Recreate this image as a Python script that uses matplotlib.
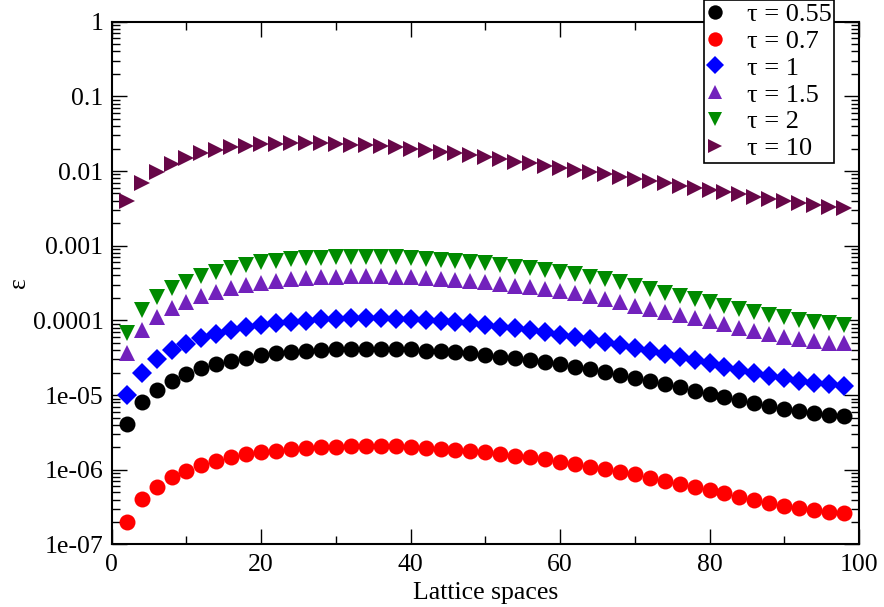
import numpy as np
import matplotlib
matplotlib.use("Agg")
import matplotlib.pyplot as plt
from matplotlib.ticker import LogLocator, FixedLocator, NullFormatter

plt.rcParams['font.family'] = ['Liberation Serif', 'DejaVu Serif']

################################################################################
# Datos

lattice = list(range(2, 100, 2))

eps_055 = [4.06e-6, 8.02e-6, 1.17e-5, 1.56e-5, 1.91e-5, 2.29e-5, 2.58e-5, 2.89e-5,
           3.17e-5, 3.44e-5, 3.62e-5, 3.81e-5, 3.94e-5, 4.02e-5, 4.10e-5, 4.14e-5,
           4.14e-5, 4.14e-5, 4.10e-5, 4.10e-5, 3.94e-5, 3.85e-5, 3.74e-5, 3.62e-5,
           3.44e-5, 3.27e-5, 3.10e-5, 2.95e-5, 2.75e-5, 2.58e-5, 2.40e-5, 2.21e-5,
           2.02e-5, 1.86e-5, 1.71e-5, 1.55e-5, 1.41e-5, 1.27e-5, 1.15e-5, 1.035e-5,
           9.53e-6, 8.61e-6, 7.91e-6, 7.21e-6, 6.52e-6, 6.12e-6, 5.70e-6, 5.42e-6,
           5.30e-6]

eps_07 = [2.02e-7, 4.06e-7, 5.94e-7, 7.94e-7, 9.72e-7, 1.16e-6, 1.32e-6, 1.47e-6,
          1.61e-6, 1.71e-6, 1.80e-6, 1.88e-6, 1.94e-6, 2.00e-6, 2.04e-6, 2.08e-6,
          2.08e-6, 2.08e-6, 2.05e-6, 2.03e-6, 1.98e-6, 1.92e-6, 1.86e-6, 1.79e-6,
          1.71e-6, 1.64e-6, 1.55e-6, 1.47e-6, 1.38e-6, 1.29e-6, 1.20e-6, 1.10e-6,
          1.01e-6, 9.42e-7, 8.71e-7, 7.85e-7, 7.14e-7, 6.53e-7, 5.92e-7, 5.37e-7,
          4.84e-7, 4.37e-7, 3.94e-7, 3.63e-7, 3.31e-7, 3.05e-7, 2.90e-7, 2.75e-7,
          2.67e-7]

eps_1 = [1.00e-5, 2.00e-5, 3.01e-5, 4.02e-5, 4.83e-5, 5.87e-5, 6.58e-5, 7.43e-5,
         8.07e-5, 8.67e-5, 9.14e-5, 9.62e-5, 9.91e-5, 1.035e-4, 1.05e-4, 1.07e-4,
         1.07e-4, 1.07e-4, 1.04e-4, 1.03e-4, 1.01e-4, 9.91e-5, 9.53e-5, 9.14e-5,
         8.67e-5, 8.24e-5, 7.83e-5, 7.43e-5, 6.93e-5, 6.38e-5, 6.05e-5, 5.64e-5,
         5.19e-5, 4.69e-5, 4.32e-5, 3.94e-5, 3.55e-5, 3.27e-5, 2.95e-5, 2.67e-5,
         2.40e-5, 2.17e-5, 2.00e-5, 1.82e-5, 1.68e-5, 1.55e-5, 1.47e-5, 1.41e-5,
         1.34e-5]

eps_15 = [3.70e-5, 7.43e-5, 1.10e-4, 1.45e-4, 1.78e-4, 2.12e-4, 2.42e-4, 2.69e-4,
          2.98e-4, 3.20e-4, 3.40e-4, 3.55e-4, 3.66e-4, 3.78e-4, 3.85e-4, 3.93e-4,
          3.93e-4, 3.93e-4, 3.85e-4, 3.78e-4, 3.66e-4, 3.55e-4, 3.48e-4, 3.40e-4,
          3.24e-4, 3.07e-4, 2.92e-4, 2.77e-4, 2.63e-4, 2.47e-4, 2.31e-4, 2.14e-4,
          1.93e-4, 1.74e-4, 1.56e-4, 1.42e-4, 1.31e-4, 1.18e-4, 1.07e-4, 9.82e-5,
          8.87e-5, 7.98e-5, 7.28e-5, 6.58e-5, 6.05e-5, 5.64e-5, 5.30e-5, 5.04e-5,
          4.93e-5]

eps_2 = [6.84e-5, 1.38e-4, 2.08e-4, 2.69e-4, 3.30e-4, 3.93e-4, 4.49e-4, 4.98e-4,
         5.51e-4, 5.98e-4, 6.30e-4, 6.58e-4, 6.78e-4, 6.90e-4, 6.98e-4, 7.08e-4,
         7.13e-4, 7.13e-4, 6.98e-4, 6.78e-4, 6.64e-4, 6.44e-4, 6.24e-4, 5.98e-4,
         5.81e-4, 5.51e-4, 5.24e-4, 4.98e-4, 4.73e-4, 4.41e-4, 4.14e-4, 3.85e-4,
         3.55e-4, 3.24e-4, 2.88e-4, 2.61e-4, 2.35e-4, 2.14e-4, 1.93e-4, 1.75e-4,
         1.57e-4, 1.42e-4, 1.31e-4, 1.18e-4, 1.10e-4, 1.01e-4, 9.53e-5, 9.14e-5,
         8.67e-5]

eps_10 = [3.98e-3, 6.97e-3, 9.79e-3, 1.23e-2, 1.51e-2, 1.72e-2, 1.91e-2, 2.08e-2,
          2.19e-2, 2.28e-2, 2.32e-2, 2.34e-2, 2.36e-2, 2.34e-2, 2.30e-2, 2.26e-2,
          2.22e-2, 2.16e-2, 2.09e-2, 2.00e-2, 1.91e-2, 1.82e-2, 1.72e-2, 1.62e-2,
          1.52e-2, 1.43e-2, 1.33e-2, 1.27e-2, 1.18e-2, 1.11e-2, 1.03e-2, 9.59e-3,
          9.02e-3, 8.39e-3, 7.82e-3, 7.35e-3, 6.84e-3, 6.37e-3, 5.98e-3, 5.57e-3,
          5.24e-3, 4.88e-3, 4.53e-3, 4.27e-3, 4.01e-3, 3.70e-3, 3.48e-3, 3.27e-3,
          3.16e-3]

labels = ["τ = 0.55", "τ = 0.7", "τ = 1", "τ = 1.5", "τ = 2", "τ = 10"]
y_ticks = [1e-7, 1e-6, 1e-5, 1e-4, 1e-3, 1e-2, 1e-1, 1]
y_tick_labels = ["1e-07", "1e-06", "1e-05", "0.0001", "0.001", "0.01", "0.1", "1"]

################################################################################
# Gráfica

fig = plt.figure(figsize=(8.84, 6.07), dpi=100)
ax = fig.add_axes([0.1264, 0.1030, 0.8453, 0.8614])

series = [eps_055, eps_07, eps_1, eps_15, eps_2, eps_10]
styles = [("o", "#000000", 11.5),
          ("o", "#ff0000", 11.5),
          ("D", "#0000ff", 10.0),
          ("^", "#7221bc", 11.2),
          ("v", "#008b00", 11.2),
          (">", "#670748", 11.2)]

for s, lab, (m, c, ms) in zip(series, labels, styles):
    ax.plot(lattice, s, linestyle="none", marker=m, color=c, markersize=ms,
            markeredgewidth=0, label=lab)

ax.set_yscale("log")
ax.set_xlim(0, 100)
ax.set_ylim(1e-7, 1)

ax.xaxis.set_major_locator(FixedLocator([0, 20, 40, 60, 80, 100]))
ax.xaxis.set_minor_locator(FixedLocator([10, 30, 50, 70, 90]))
ax.set_yticks(y_ticks)
ax.set_yticklabels(y_tick_labels)
ax.yaxis.set_minor_locator(LogLocator(base=10, subs=np.arange(2, 10), numticks=20))
ax.yaxis.set_minor_formatter(NullFormatter())

ax.tick_params(which="both", direction="in", top=True, right=True,
               labelsize=18.5, width=1.0, pad=6)
ax.tick_params(which="major", length=11)
ax.tick_params(which="minor", length=5.5)
ax.tick_params(axis="x", pad=7)
for sp in ax.spines.values():
    sp.set_linewidth(1.5)

ax.set_xlabel("Lattice spaces", fontsize=18.5, labelpad=4.5)
ax.set_ylabel("ε", fontsize=18.5, labelpad=2)

leg = ax.legend(loc="lower right", bbox_to_anchor=(834 / 884, 1 - 163 / 607),
                bbox_transform=fig.transFigure, fontsize=19, frameon=True,
                fancybox=False, framealpha=1, edgecolor="black",
                labelspacing=0.13, handlelength=0.6, handletextpad=0.9,
                borderpad=0.1, borderaxespad=0, markerscale=0.9)
leg.get_frame().set_linewidth(1.2)

fig.savefig("out.png", dpi=100)
